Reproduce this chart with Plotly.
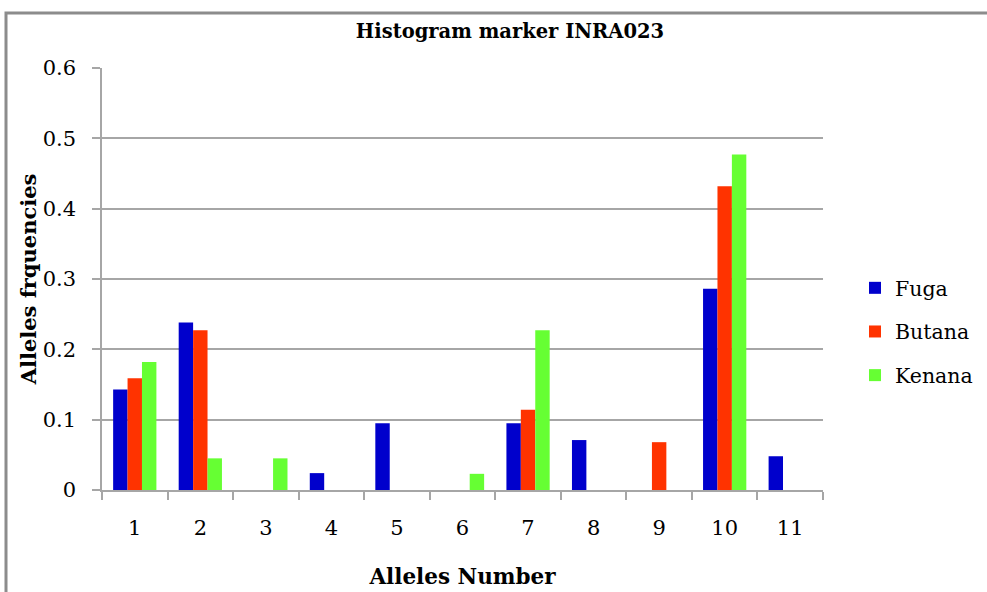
import plotly.graph_objects as go

alleles = ["1", "2", "3", "4", "5", "6", "7", "8", "9", "10", "11"]
fuga = [0.143, 0.238, 0, 0.024, 0.095, 0, 0.095, 0.071, 0, 0.286, 0.048]
butana = [0.159, 0.227, 0, 0, 0, 0, 0.114, 0, 0.068, 0.432, 0]
kenana = [0.182, 0.045, 0.045, 0, 0, 0.023, 0.227, 0, 0, 0.477, 0]

y_ticks = [0, 0.1, 0.2, 0.3, 0.4, 0.5, 0.6]
y_labels = ["0", "0.1", "0.2", "0.3", "0.4", "0.5", "0.6"]

series = [("Fuga", fuga, "#0000CC"), ("Butana", butana, "#FF3300"), ("Kenana", kenana, "#66FF33")]

FONT = "DejaVu Serif"
W, H = 987, 592
L, R, T, B = 102, 164, 68, 102
pw, ph = W - L - R, H - T - B

fig = go.Figure()
for name, vals, color in series:
    fig.add_trace(go.Bar(
        x=alleles, y=vals, name=name, legendgroup=name,
        marker=dict(color=color, line=dict(width=0)),
    ))

grid = "#A6A6A6"
fig.update_layout(
    width=W, height=H,
    margin=dict(l=L, r=R, t=T, b=B, autoexpand=False),
    paper_bgcolor="white", plot_bgcolor="white",
    barmode="group", bargap=0.34, bargroupgap=0,
    font=dict(family=FONT, color="black"),
    title=dict(text="<b>Histogram marker INRA023</b>", x=510 / W, xanchor="center",
               y=1 - 31 / H, yanchor="middle", font=dict(size=19.5, family=FONT)),
    xaxis=dict(
        type="category", tickson="boundaries", ticks="outside", ticklen=8,
        tickcolor=grid, tickwidth=1.5, showline=True, linecolor=grid, linewidth=1.5,
        tickfont=dict(size=21), ticklabelstandoff=18, showgrid=False, automargin=False,
        title=dict(text="<b>Alleles Number</b>", font=dict(size=21.5), standoff=30),
    ),
    yaxis=dict(
        range=[0, 0.6], tickvals=y_ticks, ticktext=y_labels, ticks="outside", ticklen=8,
        tickcolor=grid, tickwidth=1.5, showline=True, linecolor=grid, linewidth=1.5,
        showgrid=True, gridcolor=grid, gridwidth=1.5, zeroline=False,
        tickfont=dict(size=21), ticklabelstandoff=12, automargin=False,
        title=dict(text="<b>Alleles frquencies</b>", font=dict(size=21), standoff=0),
    ),
    legend=dict(
        x=(855 - L) / pw, xanchor="left", y=1 - (268 - T) / ph, yanchor="top",
        font=dict(size=20.5), tracegroupgap=14, bgcolor="rgba(0,0,0,0)",
    ),
    showlegend=True,
)

# outer chart border (partly cut off at right and bottom)
fig.add_shape(type="rect", xref="paper", yref="paper",
              x0=(6 - L) / pw, x1=(W + 20 - L) / pw,
              y0=-(B + 20) / ph, y1=1 + (T - 13) / ph,
              line=dict(color="#8C8C8C", width=3), fillcolor="rgba(0,0,0,0)", layer="below")

fig.write_html("out.html")
